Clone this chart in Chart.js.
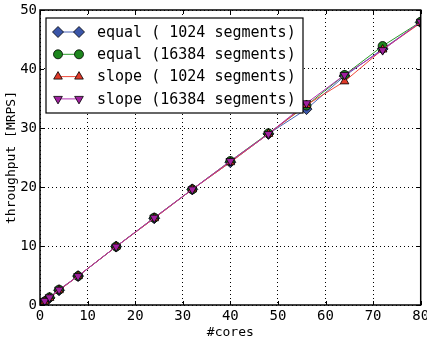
<!DOCTYPE html>
<html><head><meta charset="utf-8">
<script src="https://cdn.jsdelivr.net/npm/chart.js@4/dist/chart.umd.min.js"></script>
<style>html,body{margin:0;padding:0;background:#fff}#w{width:427px;height:342px}</style>
</head><body><div id="w"><canvas id="c" width="427" height="342"></canvas></div>
<script>
const cores = [1, 2, 4, 8, 16, 24, 32, 40, 48, 56, 64, 72, 80];
const equal1024  = [0.6, 1.2, 2.5, 4.9, 9.9, 14.7, 19.6, 24.2, 29.0, 33.2, 38.8, 43.4, 47.9];
const equal16384 = [0.6, 1.3, 2.6, 4.9, 9.9, 14.8, 19.6, 24.4, 29.1, 33.8, 39.0, 43.9, 48.0];
const slope1024  = [0.6, 1.2, 2.5, 4.9, 9.9, 14.7, 19.6, 24.2, 29.0, 33.9, 37.9, 43.3, 47.8];
const slope16384 = [0.7, 1.3, 2.6, 4.9, 9.9, 14.8, 19.6, 24.4, 29.0, 34.2, 39.0, 43.2, 48.0];
const seriesLabels = ['equal ( 1024 segments)', 'equal (16384 segments)', 'slope ( 1024 segments)', 'slope (16384 segments)'];
const xTicks = [0, 10, 20, 30, 40, 50, 60, 70, 80];
const yTicks = [0, 10, 20, 30, 40, 50];

const MONO = '"DejaVu Sans Mono", monospace';
const styles = [
  {line: '#4a64b8', fill: '#3a55a8', pt: 'rectRot', r: 5.5},
  {line: '#2a9a2a', fill: '#1e861e', pt: 'circle', r: 4.5},
  {line: '#f04a3a', fill: '#e03a2a', pt: 'triangle', r: 5},
  {line: '#b030b0', fill: '#a020a0', pt: 'triangle', r: 5, rot: 180}
];
const allSeries = [equal1024, equal16384, slope1024, slope16384];
const datasets = allSeries.map((s, i) => ({
  label: seriesLabels[i],
  data: cores.map((x, j) => ({x: x, y: s[j]})),
  order: allSeries.length - 1 - i,
  borderColor: styles[i].line,
  backgroundColor: styles[i].fill,
  pointBackgroundColor: styles[i].fill,
  pointBorderColor: '#000',
  pointBorderWidth: 0.8,
  pointStyle: styles[i].pt,
  pointRadius: styles[i].r,
  pointRotation: styles[i].rot || 0,
  borderWidth: 1,
  tension: 0
}));

const framePlugin = {
  id: 'frame',
  afterDraw(chart) {
    const {ctx, chartArea: a, scales} = chart;
    ctx.save();
    ctx.strokeStyle = '#000';
    ctx.lineWidth = 1;
    const L = 4;
    ctx.beginPath();
    xTicks.forEach(v => {
      const px = Math.round(scales.x.getPixelForValue(v)) + 0.5;
      ctx.moveTo(px, a.bottom); ctx.lineTo(px, a.bottom - L);
      ctx.moveTo(px, a.top); ctx.lineTo(px, a.top + L);
    });
    yTicks.forEach(v => {
      const py = Math.round(scales.y.getPixelForValue(v)) + 0.5;
      ctx.moveTo(a.left, py); ctx.lineTo(a.left + L, py);
      ctx.moveTo(a.right, py); ctx.lineTo(a.right - L, py);
    });
    ctx.stroke();
    ctx.lineWidth = 1.5;
    ctx.strokeRect(a.left, a.top, a.right - a.left, a.bottom - a.top);
    // legend
    const bx = 46, by = 18, bw = 257, bh = 95;
    ctx.fillStyle = '#fff';
    ctx.fillRect(bx, by, bw, bh);
    ctx.lineWidth = 1.2;
    ctx.strokeRect(bx, by, bw, bh);
    ctx.font = '15px ' + MONO;
    ctx.textBaseline = 'middle';
    chart.data.datasets.forEach((ds, i) => {
      const y = by + 14 + i * 22.3;
      ctx.strokeStyle = ds.borderColor;
      ctx.lineWidth = 1;
      ctx.beginPath(); ctx.moveTo(58, y); ctx.lineTo(79, y); ctx.stroke();
      [58, 79].forEach(x => {
        ctx.fillStyle = ds.pointBackgroundColor;
        ctx.strokeStyle = '#000';
        ctx.lineWidth = 0.8;
        Chart.helpers.drawPoint(ctx, {pointStyle: ds.pointStyle, radius: ds.pointRadius, rotation: ds.pointRotation, borderWidth: 0.8}, x, y);
      });
      ctx.fillStyle = '#000';
      ctx.fillText(ds.label, 97, y + 1);
    });
    ctx.restore();
  }
};

new Chart(document.getElementById('c'), {
  type: 'line',
  data: {datasets},
  options: {
    responsive: false,
    animation: false,
    devicePixelRatio: 1,
    layout: {padding: {top: 10, right: 6, left: 0, bottom: 0}},
    plugins: {legend: {display: false}, tooltip: {enabled: false}},
    scales: {
      x: {
        type: 'linear', min: 0, max: 80,
        afterBuildTicks: s => { s.ticks = xTicks.map(v => ({value: v})); },
        afterFit: s => { s.height = 37; s.paddingLeft = 0; s.paddingRight = 0; },
        grid: {color: '#000', lineWidth: 1, drawTicks: false},
        border: {display: false, dash: [1, 3]},
        ticks: {font: {family: MONO, size: 14}, color: '#000', padding: 3, maxRotation: 0, autoSkip: false},
        title: {display: true, text: '#cores', font: {family: MONO, size: 13}, color: '#000', padding: {top: 0, bottom: 2}}
      },
      y: {
        min: 0, max: 50,
        afterBuildTicks: s => { s.ticks = yTicks.map(v => ({value: v})); },
        afterFit: s => { s.width = 40; s.paddingTop = 0; s.paddingBottom = 0; },
        grid: {color: '#000', lineWidth: 1, drawTicks: false},
        border: {display: false, dash: [1, 3]},
        ticks: {font: {family: MONO, size: 14}, color: '#000', padding: 3, autoSkip: false},
        title: {display: true, text: 'throughput [MRPS]', font: {family: MONO, size: 13}, color: '#000', padding: {top: 4, bottom: 0}}
      }
    }
  },
  plugins: [framePlugin]
});
</script></body></html>
